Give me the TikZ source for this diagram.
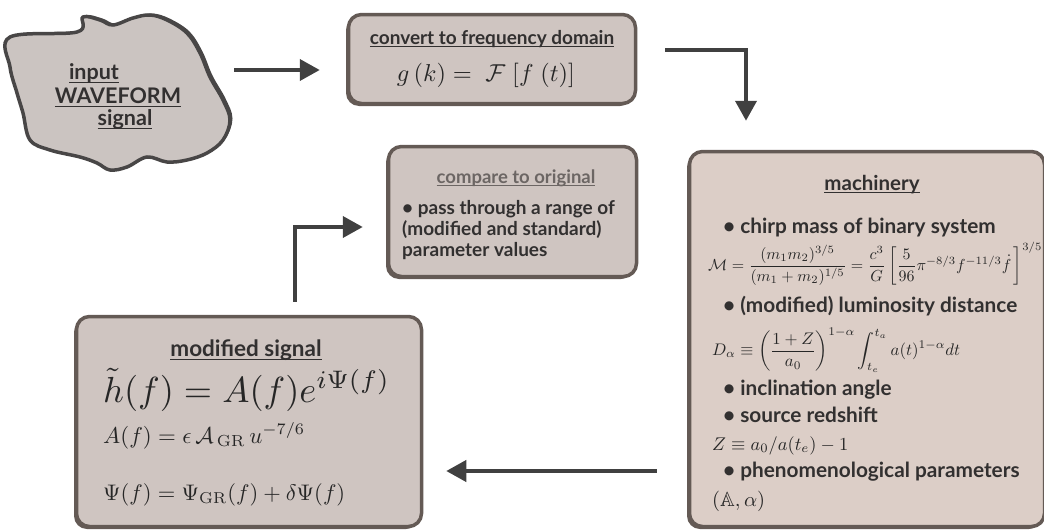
\documentclass[tikz,border=0pt]{standalone}
\usepackage{amsmath}
\usepackage{amssymb}
\usepackage{fontspec}
\usepackage{xcolor}
\usepackage{tikz}
\usetikzlibrary{arrows.meta, positioning, calc, shadows}
\newfontfamily\labfont{Lato}
\definecolor{cEdge}{RGB}{100,90,85}
\definecolor{cCard}{RGB}{207,197,193}
\definecolor{cMach}{RGB}{220,206,199}
\definecolor{cBlobEdge}{RGB}{72,70,70}
\definecolor{cBlob}{RGB}{203,196,193}
\definecolor{cArrow}{RGB}{64,64,64}
\definecolor{cInk}{RGB}{50,48,48}
\definecolor{cSoft}{RGB}{108,102,100}
\newcommand{\undl}[1]{\underline{\smash{#1}}}
\tikzset{
	card/.style    ={rectangle, rounded corners=13pt, draw=cEdge, line width=3.5pt, fill=cCard, inner sep=0pt,
		drop shadow={shadow xshift=-2.5pt, shadow yshift=-2.5pt, fill=cEdge, opacity=1}},
	blobline/.style={draw=cBlobEdge, line width=3.5pt, fill=cBlob,
		drop shadow={shadow xshift=2.5pt, shadow yshift=1.5pt, fill=cBlobEdge, opacity=1}},
	flow/.style    ={-{Triangle[length=20pt, width=21pt]}, line width=4pt, draw=cArrow},
	ttl/.style     ={inner sep=0pt, text=cInk, font=\labfont\bfseries\fontsize{19}{22}\selectfont},
	wavtxt/.style  ={inner sep=0pt, text=cInk, font=\labfont\bfseries\fontsize{21.5}{24}\selectfont},
	itm/.style     ={inner sep=0pt, text=cInk, anchor=base west, font=\labfont\bfseries\fontsize{20.8}{24}\selectfont},
	eqn/.style     ={inner sep=0pt, text=black!85},
}

\begin{document}
\begin{tikzpicture}[x=1pt, y=-1pt]
	\useasboundingbox (0,0) rectangle (1044,530);
	\draw[blobline] plot[smooth cycle, tension=0.6] coordinates {(10,37) (77,32) (83,17) (100,20) (113,25) (133,18) (150,15) (167,20) (187,33) (200,53) (210,77) (223,100) (230,120) (223,140) (207,153) (187,160) (167,162) (147,157) (127,167) (110,170) (97,163) (80,157) (50,150) (30,140) (23,113) (17,93) (10,67)};
	\node[wavtxt, anchor=base] (wavA) at (94,79) {\undl{input}};
	\node[wavtxt, anchor=base] (wavB) at (118,103) {\undl{WAVEFORM}};
	\node[wavtxt, anchor=base] (wavC) at (125,125) {\undl{signal}};
	\coordinate (blobtip) at (234,70);

	\node[card, minimum width=287pt, minimum height=89pt] (conv) at (492,59) {};
	\node[ttl, anchor=base] (convttl) at (492,44) {\undl{convert to frequency domain}};
	\node[eqn, anchor=base] (fourier) at (486,81) {\resizebox{178pt}{!}{$g\,(k) =\; \mathcal{F}\;[f\;(t)]$}};

	\node[card, minimum width=248pt, minimum height=130pt] (comp) at (512.5,211.5) {};
	\node[ttl, anchor=base, text=cSoft, font=\labfont\bfseries\fontsize{18.5}{22}\selectfont] (compttl) at (516,183) {\undl{compare to original}};
	\node[itm, align=left, font=\labfont\bfseries\fontsize{19}{21}\selectfont] (compitm) at (402,256) {\textbullet\ pass through a range of\\(modified and standard)\\parameter values};

	\node[card, fill=cMach, minimum width=355pt, minimum height=375pt] (mach) at (867,339) {};
	\node[ttl, anchor=base, font=\labfont\bfseries\fontsize{20.5}{24}\selectfont] (machttl) at (872,190) {\undl{machinery}};
	\node[itm] (chirp) at (723,233) {\textbullet\ chirp mass of binary system};
	\node[eqn, anchor=west] (chirpeq) at (708,264) {\resizebox{334pt}{!}{$\mathcal{M} = \dfrac{(m_1m_2)^{3/5}}{(m_1+m_2)^{1/5}} = \dfrac{c^3}{G}\left[\dfrac{5}{96}\pi^{-8/3}f^{-11/3}\dot{f}\,\right]^{3/5}$}};
	\node[itm] (lumi) at (723,312) {\textbullet\ (modified) luminosity distance};
	\node[eqn, anchor=west] (lumieq) at (712,350) {\resizebox{248pt}{!}{$D_\alpha \equiv \left(\dfrac{1+Z}{a_0}\right)^{1-\alpha}\displaystyle\int_{t_e}^{t_a} a(t)^{1-\alpha}dt$}};
	\node[itm] (incl) at (723,395) {\textbullet\ inclination angle};
	\node[itm] (redsh) at (723,422) {\textbullet\ source redshift};
	\node[eqn, anchor=base west] (redsheq) at (712,450) {\resizebox{136pt}{!}{$Z \equiv a_0/a(t_e) - 1$}};
	\node[itm] (pheno) at (723,477) {\textbullet\ phenomenological parameters};
	\node[eqn, anchor=base west] (phenoeq) at (712,506) {\resizebox{53pt}{!}{$(\mathbb{A},\alpha)$}};

	\node[card, minimum width=345pt, minimum height=210pt] (modsig) at (249,421.5) {};
	\node[ttl, anchor=base, font=\labfont\bfseries\fontsize{22.5}{26}\selectfont] (modttl) at (246,356) {\undl{modified signal}};
	\node[eqn, anchor=base west] (htilde) at (103,402) {\resizebox{287pt}{!}{$\tilde{h}(f) = A(f)e^{i\Psi(f)}$}};
	\node[eqn, anchor=base west] (ampl) at (103,443) {\resizebox{202pt}{!}{$A(f) = \epsilon\,\mathcal{A}_{\,\mathrm{GR}}\,u^{-7/6}$}};
	\node[eqn, anchor=base west] (phase) at (103,500) {\resizebox{242pt}{!}{$\Psi(f) = \Psi_{\mathrm{GR}}(f) + \delta\Psi(f)$}};

	\coordinate (elbowA) at (746,50);
	\coordinate (elbowB) at (295,227);
	\coordinate (lowrow) at (0,471);
	\draw[flow, shorten >=27pt] (blobtip) -- (conv.west |- blobtip);
	\draw[flow, shorten <=28pt, shorten >=29pt] (conv.east |- elbowA) -| (mach.north -| elbowA);
	\draw[flow, shorten <=31pt, shorten >=23pt] (mach.west |- lowrow) -- (modsig.east |- lowrow);
	\draw[flow, shorten <=13pt, shorten >=24pt] (modsig.north -| elbowB) |- (comp.west |- elbowB);
\end{tikzpicture}
\end{document}
